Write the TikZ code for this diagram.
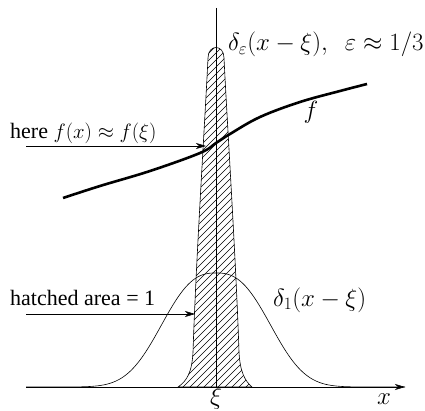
\documentclass[tikz,border=0pt]{standalone}
\usepackage{fontspec}
\setmainfont{Liberation Serif}
\usetikzlibrary{arrows.meta}
\tikzset{
  lbl/.style={inner sep=0pt, font=\fontsize{22}{26}\selectfont},
  mlbl/.style={inner sep=0pt, font=\fontsize{23.5}{28}\selectfont},
  thin line/.style={line width=0.6pt},
  arr/.style={line width=0.6pt, -{Stealth[length=10pt,width=6pt,inset=3pt]}},
  fcurve/.style={line width=2.6pt},
}
\begin{document}
\begin{tikzpicture}[x=1pt,y=-1pt]
\useasboundingbox (0,0) rectangle (425,411);
\def\spikepath{(178,387) .. controls (187,381) and (192,372) .. (193,352)
  .. controls (196,260) and (205,120) .. (208,58)
  .. controls (208,44) and (224,44) .. (224,58)
  .. controls (227,120) and (236,260) .. (239,352)
  .. controls (240,372) and (245,381) .. (252,387) -- cycle}
% hatching
\begin{scope}
  \clip \spikepath;
  \foreach \i in {-250,-243,...,260}
    \draw[line width=0.5pt] (\i,400) -- ++(420,-420);
\end{scope}
\draw[thin line] \spikepath;
% wide bump
\draw[thin line] plot[domain=26:405, samples=160, smooth] (\x, {387-114*exp(-(abs(\x-216)/66)^2.6)});
% f curve
\draw[fcurve] plot[smooth, tension=0.6] coordinates {(63,198) (100,186) (150,171) (200,153) (216,143) (230,134) (260,117) (300,102) (340,91) (367,84)};
% axes
\coordinate (xl) at (26,387);
\coordinate (xr) at (405,387);
\coordinate (vt) at (216,8);
\coordinate (vb) at (216,387);
\draw[arr] (xl) -- (xr);
\draw[thin line] (vt) -- (vb);
% labels
\node[lbl, anchor=base west] (here) at (10,139) {here $f(x)\approx f(\xi)$};
\coordinate (a1s) at (26,146);
\coordinate (a1e) at (206,146);
\draw[arr] (a1s) -- (a1e);
\node[mlbl, anchor=base west] (deps) at (228,51) {$\delta_\varepsilon(x-\xi),\;\ \varepsilon\approx 1/3$};
\node[mlbl] (flab) at (311,112) {$f$};
\node[lbl, anchor=base west] (hatch) at (10,305) {hatched area = 1};
\coordinate (a2s) at (26,314);
\coordinate (a2e) at (195,314);
\draw[arr] (a2s) -- (a2e);
\node[mlbl, anchor=base west] (d1) at (273,306) {$\delta_1(x-\xi)$};
\node[mlbl, anchor=base] (xi) at (216,404) {$\xi$};
\node[mlbl, anchor=base] (xlab) at (384,404) {$x$};
\end{tikzpicture}
\end{document}
